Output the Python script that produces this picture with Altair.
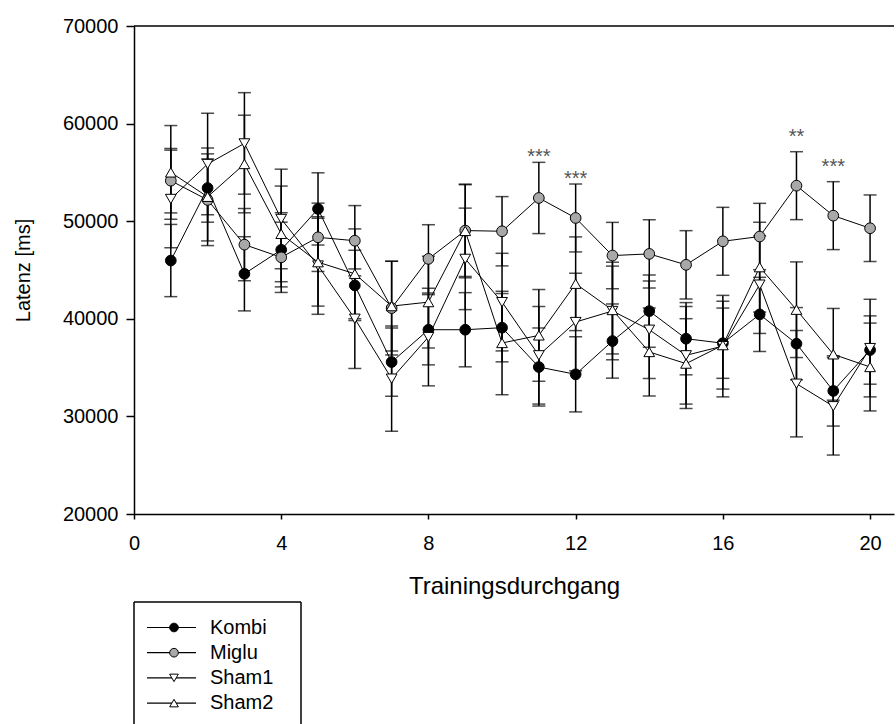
import altair as alt
import pandas as pd

FONT = "Liberation Sans"

trials = list(range(1, 21))
series_names = ["Kombi", "Miglu", "Sham1", "Sham2"]

kombi_mean = [45970, 53400, 44610, 47070, 51260, 43420, 35570, 38880, 38880, 39090,
              35060, 34310, 37720, 40790, 37960, 37500, 40450, 37450, 32610, 36800]
kombi_se = [3700, 3500, 3800, 3800, 3700, 3600, 3500, 3600, 3800, 3500,
            4000, 3850, 3800, 3700, 3700, 3600, 3800, 3700, 3600, 3500]

miglu_mean = [54150, 52180, 47600, 46300, 48350, 48000, 41100, 46140, 49040, 48970,
              52380, 50330, 46480, 46650, 45530, 47940, 48430, 53640, 50570, 49280]
miglu_se = [3300, 4200, 3700, 3600, 3500, 3600, 4800, 3500, 4700, 3550,
            3650, 3480, 3400, 3500, 3500, 3480, 3400, 3480, 3480, 3410]

sham1_mean = [52280, 55860, 57970, 50230, 45460, 40010, 33870, 38130, 46140, 41710,
              36260, 39670, 40800, 38880, 36260, 37200, 43500, 33350, 31040, 37000]
sham1_se = [5000, 5200, 5200, 5100, 5000, 5100, 5400, 5000, 5200, 5000,
            5000, 5000, 5000, 5000, 5000, 5200, 5000, 5450, 5000, 5000]

sham2_mean = [55000, 52500, 55860, 48700, 45800, 44610, 41300, 41710, 49000, 37520,
              38300, 43590, 40900, 36600, 35410, 37300, 45290, 40930, 36360, 35060]
sham2_se = [4800, 5000, 5000, 4900, 4500, 4600, 4600, 4700, 4800, 5300,
            4700, 4800, 4500, 4500, 4600, 4500, 4600, 4900, 4700, 4500]

star_trials = [11, 12, 18, 19]
star_labels = ["***", "***", "**", "***"]
star_y = [56000, 53700, 58000, 54900]

x_ticks = [0, 4, 8, 12, 16, 20]
y_ticks = [20000, 30000, 40000, 50000, 60000, 70000]

shapes = ["circle", "circle", "triangle-down", "triangle-up"]
fills = ["black", "#a8a8a8", "white", "white"]

rows = []
for name, means, ses in zip(series_names,
                            [kombi_mean, miglu_mean, sham1_mean, sham2_mean],
                            [kombi_se, miglu_se, sham1_se, sham2_se]):
    for t, m, s in zip(trials, means, ses):
        rows.append({"trial": t, "series": name, "mean": m, "lo": m - s, "hi": m + s})
df = pd.DataFrame(rows)
stars_df = pd.DataFrame({"trial": star_trials, "label": star_labels, "y": star_y})

xscale = alt.Scale(domain=[0, 20.65], nice=False, zero=False)
yscale = alt.Scale(domain=[20000, 70000], nice=False, zero=False)

xaxis = alt.Axis(values=x_ticks, title="Trainingsdurchgang", grid=False, tickSize=5,
                 labelPadding=14, titlePadding=21, labelFontSize=20, titleFontSize=24,
                 labelFlush=False, format="d")
yaxis = alt.Axis(values=y_ticks, title="Latenz [ms]", grid=False, tickSize=8,
                 labelPadding=8, titlePadding=29, labelFontSize=20, titleFontSize=20,
                 format="d")

X = alt.X("trial:Q", scale=xscale, axis=xaxis)
shape_scale = alt.Scale(domain=series_names, range=shapes)
fill_scale = alt.Scale(domain=series_names, range=fills)

base = alt.Chart(df)

err = base.mark_rule(color="black", strokeWidth=1.5).encode(
    x=X, y=alt.Y("lo:Q", scale=yscale, axis=yaxis), y2="hi:Q", detail="series:N")

caps = base.transform_fold(["lo", "hi"], as_=["end", "val"]).mark_tick(
    color="black", orient="horizontal", size=13, thickness=1.5).encode(
    x=X, y=alt.Y("val:Q", scale=yscale, axis=yaxis), detail="series:N")

lines = base.mark_line(color="black", strokeWidth=1).encode(
    x=X, y=alt.Y("mean:Q", scale=yscale, axis=yaxis), detail="series:N")

points = base.mark_point(filled=False, stroke="black", strokeWidth=1, size=115, opacity=1).encode(
    x=X, y=alt.Y("mean:Q", scale=yscale, axis=yaxis),
    shape=alt.Shape("series:N", scale=shape_scale, legend=None),
    fill=alt.Fill("series:N", scale=fill_scale, legend=None))

stars = alt.Chart(stars_df).mark_text(fontSize=20, font=FONT, color="#555555",
                                      baseline="alphabetic", align="center").encode(
    x=alt.X("trial:Q", scale=xscale, axis=xaxis),
    y=alt.Y("y:Q", scale=yscale, axis=yaxis), text="label:N")

top_border = alt.Chart(pd.DataFrame({"y": [70000]})).mark_rule(
    color="black", strokeWidth=1.5).encode(y=alt.Y("y:Q", scale=yscale, axis=yaxis))

main = alt.layer(err, caps, lines, points, stars, top_border).properties(width=760, height=488)

# legend box
legend_df = pd.DataFrame({"series": series_names, "row": [0, 1, 2, 3]})
LW, LH = 167, 122
lx = alt.Scale(domain=[0, LW], nice=False, zero=False)
ly = alt.Scale(domain=[0, LH], nice=False, zero=False, reverse=True)
lbase = alt.Chart(legend_df).transform_calculate(ypos="25.5 + datum.row * 25.2")

leg_lines = lbase.mark_rule(color="black", strokeWidth=1.2).encode(
    x=alt.X("x1:Q", scale=lx, axis=None), x2="x2:Q",
    y=alt.Y("ypos:Q", scale=ly, axis=None)).transform_calculate(x1="13", x2="62")
leg_points = lbase.mark_point(filled=False, stroke="black", strokeWidth=1, size=75, opacity=1).encode(
    x=alt.X("xm:Q", scale=lx, axis=None), y=alt.Y("ypos:Q", scale=ly, axis=None),
    shape=alt.Shape("series:N", scale=shape_scale, legend=None),
    fill=alt.Fill("series:N", scale=fill_scale, legend=None)).transform_calculate(xm="40")
leg_text = lbase.mark_text(fontSize=20, font=FONT, align="left", baseline="middle", color="black").encode(
    x=alt.X("xt:Q", scale=lx, axis=None), y=alt.Y("ypos:Q", scale=ly, axis=None),
    text="series:N").transform_calculate(xt="76")

box_df = pd.DataFrame({"v": [0]})
box_top = alt.Chart(box_df).mark_rule(color="black", strokeWidth=1.5).encode(
    y=alt.Y("v:Q", scale=ly, axis=None))
box_sides = alt.Chart(pd.DataFrame({"v": [0, LW]})).mark_rule(color="black", strokeWidth=1.5).encode(
    x=alt.X("v:Q", scale=lx, axis=None))

legend = alt.layer(box_top, box_sides, leg_lines, leg_points, leg_text).properties(width=LW, height=LH)

chart = alt.vconcat(main, legend, spacing=1).properties(
    padding={"left": 12, "top": 15, "right": 0, "bottom": 0}
).configure_view(stroke="transparent").configure_axis(
    labelFont=FONT, titleFont=FONT, titleFontWeight="normal",
    domainColor="black", tickColor="black", labelColor="black", titleColor="black",
    domainWidth=1.5, tickWidth=1.5
).resolve_scale(shape="independent", fill="independent")

chart.save("out.html", embed_options={"renderer": "svg", "actions": False})
